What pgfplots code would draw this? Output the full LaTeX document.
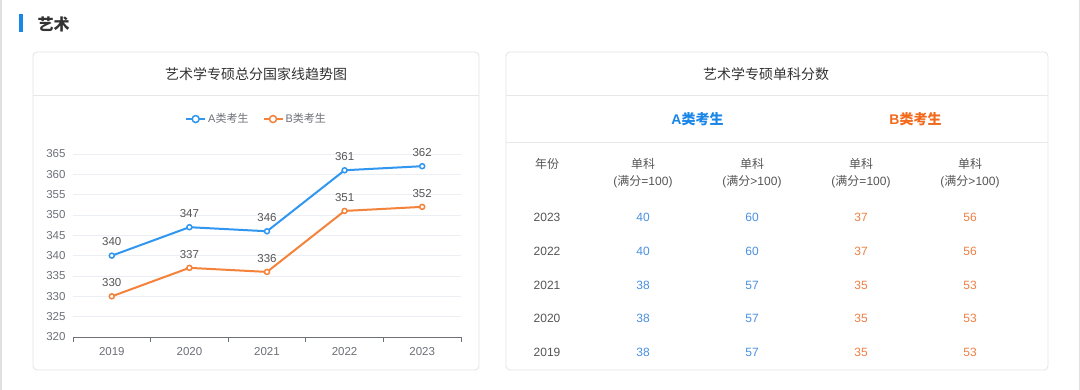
\documentclass[border=0pt]{standalone}
\usepackage{pgfplots}
\pgfplotsset{compat=1.18}
\usepackage{fontspec}
\setmainfont{Liberation Sans}
\newfontfamily\cjk{Noto Sans CJK SC}
\definecolor{lineA}{HTML}{3096F0}
\definecolor{lineB}{HTML}{F5823A}
\definecolor{tabA}{HTML}{4A90E2}
\definecolor{tabB}{HTML}{EE7F44}
\definecolor{hdrA}{HTML}{1A86E8}
\definecolor{hdrB}{HTML}{F26A1C}
\definecolor{darktxt}{HTML}{333333}
\definecolor{midtxt}{HTML}{555555}
\definecolor{labelgray}{HTML}{6E7079}
\definecolor{axisgray}{HTML}{6E7079}
\definecolor{gridc}{HTML}{EBEEF3}
\definecolor{cardborder}{HTML}{E3E3E3}
\definecolor{sepc}{HTML}{E8E8E8}
\newcommand{\fs}[1]{\fontsize{#1}{#1}\selectfont}
\begin{document}
\begin{tikzpicture}[x=1pt,y=1pt]
% background
\fill[white] (0,0) rectangle (1080,390);
\fill[black!12] (0,0) rectangle (1.5,390);
\fill[black!12] (1078.5,0) rectangle (1080,390);
% section header
\fill[hdrA] (19,358) rectangle (23,376);
\node[anchor=west, inner sep=0pt, text=darktxt, font=\cjk\bfseries\fs{16}] at (37.5,366) {艺术};
% cards
\draw[cardborder, fill=white, rounded corners=4pt, line width=0.8pt] (33,20) rectangle (479,338);
\draw[sepc, line width=0.8pt] (33,295) -- (479,295);
\draw[cardborder, fill=white, rounded corners=4pt, line width=0.8pt] (506,20) rectangle (1048,338);
\draw[sepc, line width=0.8pt] (506,295) -- (1048,295);
\draw[sepc, line width=0.8pt] (506,248) -- (1048,248);
% titles
\node[text=darktxt, font=\cjk\fs{14}, inner sep=0pt] at (256,316) {艺术学专硕总分国家线趋势图};
\node[text=darktxt, font=\cjk\fs{14}, inner sep=0pt] at (766,316) {艺术学专硕单科分数};
% chart
\begin{axis}[
  at={(73pt,53pt)}, anchor=south west, scale only axis,
  width=388pt, height=183pt,
  xmin=-0.5, xmax=4.5, ymin=320, ymax=365,
  xtick={0,...,4}, xticklabels={2019,2020,2021,2022,2023},
  minor xtick={-0.5,0.5,...,4.5},
  ytick={320,325,...,365},
  axis x line*=bottom, axis y line*=left,
  x axis line style={-, draw=axisgray, line width=0.8pt},
  y axis line style={draw=none},
  major tick length=0pt, minor tick length=5pt,
  tick align=outside,
  every minor tick/.append style={draw=axisgray, line width=0.8pt},
  ymajorgrids, major grid style={draw=gridc, line width=0.8pt},
  /pgf/number format/assume math mode=true,
  xticklabel style={font=\fs{11.5}, text=labelgray, yshift=-6.5pt},
  yticklabel style={font=\fs{11.5}, text=labelgray, xshift=-4pt},
  clip=false,
  legend columns=2,
  legend style={at={(0.473,1.191)}, anchor=center, draw=none, fill=none,
    font=\fs{11}, text=labelgray, inner sep=0pt,
    /tikz/every even column/.append style={column sep=12pt}},
  legend image code/.code={\draw[mark repeat=2,mark phase=2,#1,mark size=3.5pt] plot coordinates {(0pt,0pt) (9.5pt,0pt) (19pt,0pt)};},
  nodes near coords,
  every node near coord/.append style={font=\fs{11.5}, text=midtxt, anchor=south, yshift=5.5pt},
]
\addplot[lineA, line width=2pt, mark=*, mark size=2.5pt, mark options={fill=white, draw=lineA, line width=1.5pt}]
  coordinates {(0,340) (1,347) (2,346) (3,361) (4,362)};
\addlegendentry{A{\cjk 类考生}}
\addplot[lineB, line width=2pt, mark=*, mark size=2.5pt, mark options={fill=white, draw=lineB, line width=1.5pt}]
  coordinates {(0,330) (1,337) (2,336) (3,351) (4,352)};
\addlegendentry{B{\cjk 类考生}}
\end{axis}
% table header
\node[text=hdrA, font=\bfseries\fs{14}, inner sep=0pt] at (697.5,271) {A{\cjk\bfseries 类考生}};
\node[text=hdrB, font=\bfseries\fs{14}, inner sep=0pt] at (915.5,271) {B{\cjk\bfseries 类考生}};
\node[text=midtxt, font=\cjk\fs{12}, inner sep=0pt] at (547,226.5) {年份};
\foreach \cx/\sym in {643/=,752/>,861/=,970/>}{
  \node[text=midtxt, font=\cjk\fs{12}, inner sep=0pt] at (\cx,226.5) {单科};
  \node[text=midtxt, font=\fs{12}, inner sep=0pt] at (\cx,208.3) {({\cjk 满分}\sym100)};
}
% table rows
\foreach \py/\yr/\a/\b/\c/\d in {217.7/2023/40/60/37/56, 251.3/2022/40/60/37/56, 285.7/2021/38/57/35/53, 318.7/2020/38/57/35/53, 352/2019/38/57/35/53}{
  \node[text=midtxt, font=\fs{12}, inner sep=0pt] at (547,390-\py) {\yr};
  \node[text=tabA, font=\fs{12}, inner sep=0pt] at (643,390-\py) {\a};
  \node[text=tabA, font=\fs{12}, inner sep=0pt] at (752,390-\py) {\b};
  \node[text=tabB, font=\fs{12}, inner sep=0pt] at (861,390-\py) {\c};
  \node[text=tabB, font=\fs{12}, inner sep=0pt] at (970,390-\py) {\d};
}
\end{tikzpicture}
\end{document}
